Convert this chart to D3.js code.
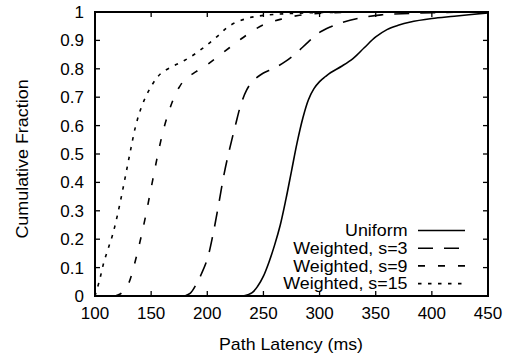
<!DOCTYPE html>
<html>
<head>
<meta charset="utf-8">
<script src="https://cdn.jsdelivr.net/npm/d3@7/dist/d3.min.js"></script>
<style>
  html, body { margin: 0; padding: 0; background: #fff; }
  svg text { font-family: "Liberation Sans", Arial, Helvetica, sans-serif; fill: #000; }
</style>
</head>
<body>
<svg id="chart" width="516" height="356"></svg>
<script>
// CDF of path latency per peer-selection scheme
const uniformLatency = [232, 240, 245, 250, 255, 260, 265, 270, 275, 280, 285, 290, 295, 300, 305, 310, 320, 330, 340, 350, 360, 370, 380, 400, 420, 450];
const uniformFraction = [0, 0.012, 0.035, 0.07, 0.12, 0.18, 0.25, 0.34, 0.44, 0.54, 0.625, 0.69, 0.73, 0.755, 0.772, 0.787, 0.81, 0.837, 0.875, 0.912, 0.938, 0.953, 0.964, 0.977, 0.985, 0.997];

const s3Latency = [180, 185, 190, 195, 200, 205, 210, 215, 220, 225, 230, 235, 240, 245, 250, 260, 270, 280, 290, 300, 310, 320, 335, 355, 380, 420, 450];
const s3Fraction = [0, 0.01, 0.04, 0.08, 0.13, 0.215, 0.32, 0.43, 0.52, 0.60, 0.675, 0.725, 0.755, 0.772, 0.785, 0.803, 0.827, 0.858, 0.895, 0.928, 0.948, 0.963, 0.978, 0.99, 0.995, 0.999, 1];

const s9Latency = [118, 122, 126, 130, 135, 140, 145, 150, 155, 160, 165, 170, 175, 180, 190, 200, 210, 220, 230, 240, 250, 265, 285, 310, 350, 450];
const s9Fraction = [0, 0.006, 0.02, 0.045, 0.11, 0.19, 0.28, 0.38, 0.48, 0.57, 0.64, 0.695, 0.735, 0.762, 0.79, 0.815, 0.845, 0.875, 0.905, 0.932, 0.955, 0.974, 0.99, 0.997, 1, 1];

const s15Latency = [100, 104, 108, 112, 116, 120, 124, 128, 132, 136, 140, 145, 150, 155, 160, 170, 180, 190, 200, 210, 220, 235, 250, 270, 300, 350, 450];
const s15Fraction = [0, 0.055, 0.12, 0.17, 0.22, 0.285, 0.36, 0.44, 0.52, 0.595, 0.65, 0.70, 0.738, 0.768, 0.788, 0.81, 0.83, 0.855, 0.885, 0.918, 0.952, 0.977, 0.988, 0.994, 0.998, 1, 1];

const seriesNames = ["Uniform", "Weighted, s=3", "Weighted, s=9", "Weighted, s=15"];
const seriesDash = [null, "15,11", "7,13", "3.5,6.5"];

const xTicks = [100, 150, 200, 250, 300, 350, 400, 450];
const yTicks = [0, 0.1, 0.2, 0.3, 0.4, 0.5, 0.6, 0.7, 0.8, 0.9, 1];

const series = [
  { name: seriesNames[0], dash: seriesDash[0], xs: uniformLatency, ys: uniformFraction },
  { name: seriesNames[1], dash: seriesDash[1], xs: s3Latency, ys: s3Fraction },
  { name: seriesNames[2], dash: seriesDash[2], xs: s9Latency, ys: s9Fraction },
  { name: seriesNames[3], dash: seriesDash[3], xs: s15Latency, ys: s15Fraction }
];

const svg = d3.select("#chart");
const plot = { left: 95, right: 488, top: 12, bottom: 296 };

const x = d3.scaleLinear().domain([100, 450]).range([plot.left, plot.right]);
const y = d3.scaleLinear().domain([0, 1]).range([plot.bottom, plot.top]);

const tickLen = 5;

// Inward ticks on all four sides
const ticks = svg.append("g").attr("stroke", "#000").attr("stroke-width", 1.3);
xTicks.forEach(v => {
  ticks.append("line").attr("x1", x(v)).attr("x2", x(v)).attr("y1", plot.bottom).attr("y2", plot.bottom - tickLen);
  ticks.append("line").attr("x1", x(v)).attr("x2", x(v)).attr("y1", plot.top).attr("y2", plot.top + tickLen);
});
yTicks.forEach(v => {
  ticks.append("line").attr("x1", plot.left).attr("x2", plot.left + tickLen).attr("y1", y(v)).attr("y2", y(v));
  ticks.append("line").attr("x1", plot.right).attr("x2", plot.right - tickLen).attr("y1", y(v)).attr("y2", y(v));
});

// Tick labels
svg.append("g").selectAll("text").data(xTicks).join("text")
  .attr("font-size", 17)
  .attr("x", d => x(d)).attr("y", 318.5).attr("text-anchor", "middle").text(d => d);
svg.append("g").selectAll("text").data(yTicks).join("text")
  .attr("font-size", 17)
  .attr("x", 84).attr("y", d => y(d) + 6).attr("text-anchor", "end").text(d => d3.format("")(d));

// Axis titles (slightly widened lettering)
svg.append("text").attr("font-size", 16)
  .attr("transform", "translate(291,350) scale(1.11,1)")
  .attr("text-anchor", "middle").text("Path Latency (ms)");
svg.append("text").attr("font-size", 16)
  .attr("transform", "translate(27.5,159) rotate(-90) scale(1.12,1)")
  .attr("text-anchor", "middle").text("Cumulative Fraction");

// Curves
const line = d3.line().x(d => x(d[0])).y(d => y(d[1])).curve(d3.curveCatmullRom.alpha(0.5));
series.forEach(s => {
  const pts = s.xs.map((v, i) => [v, s.ys[i]]);
  svg.append("path").datum(pts).attr("d", line)
    .attr("fill", "none").attr("stroke", "#000").attr("stroke-width", 1.6)
    .attr("stroke-dasharray", s.dash);
});

// Legend
const legend = svg.append("g");
series.forEach((s, i) => {
  const ly = 230.5 + i * 17.7;
  legend.append("text").attr("font-size", 15.8)
    .attr("transform", `translate(407.5,${ly + 5.8}) scale(1.13,1)`)
    .attr("text-anchor", "end").text(s.name);
  legend.append("line").attr("x1", 418).attr("x2", 465).attr("y1", ly).attr("y2", ly)
    .attr("stroke", "#000").attr("stroke-width", 1.6).attr("stroke-dasharray", s.dash);
});

// Frame
svg.append("rect").attr("x", plot.left).attr("y", plot.top)
  .attr("width", plot.right - plot.left).attr("height", plot.bottom - plot.top)
  .attr("fill", "none").attr("stroke", "#000").attr("stroke-width", 2);
</script>
</body>
</html>
